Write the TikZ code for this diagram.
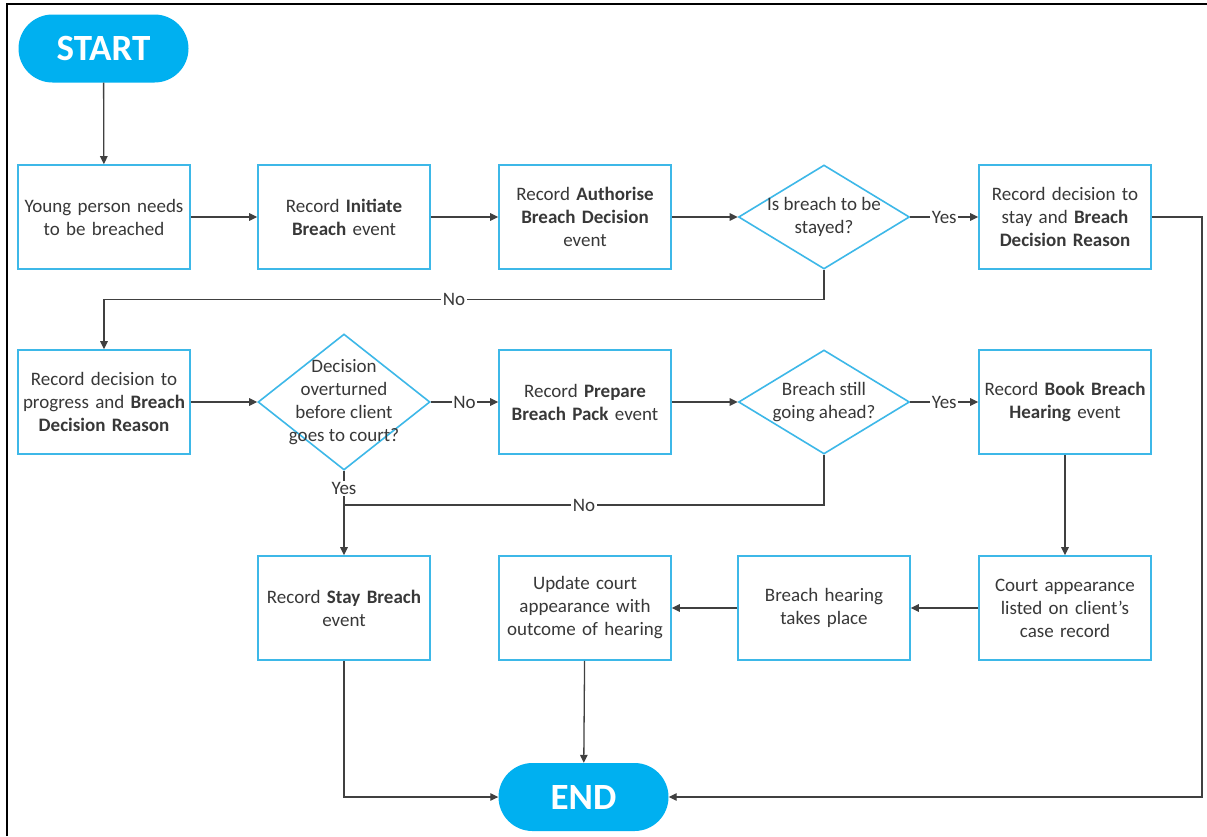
\documentclass[tikz,border=0pt]{standalone}
\usepackage{fontspec}
\setmainfont{Carlito}
\usetikzlibrary{shapes.geometric,arrows.meta}
\definecolor{cyanfill}{HTML}{00B0F0}
\definecolor{boxline}{HTML}{3DB8E8}
\definecolor{conn}{HTML}{404040}
\definecolor{txtc}{HTML}{383838}
\begin{document}
\begin{tikzpicture}[x=1pt,y=-1pt,
  box/.style={draw=boxline, line width=1.6pt, minimum width=172pt, minimum height=104pt,
    text width=164pt, align=center, font=\fontsize{19}{23}\selectfont, text=txtc, inner sep=0pt},
  dia/.style={draw=boxline, line width=1.6pt, diamond, minimum width=171pt, minimum height=104pt, inner sep=0pt},
  dtxt/.style={align=center, font=\fontsize{19}{23}\selectfont, text=txtc, inner sep=0pt},
  pill/.style={fill=cyanfill, rounded corners=34pt, minimum width=170pt, minimum height=68pt,
    text=white, font=\fontsize{37}{40}\selectfont\bfseries, inner sep=0pt},
  arr/.style={draw=conn, line width=1.3pt, -{Triangle[length=8pt,width=7.5pt]}},
  con/.style={draw=conn, line width=1.3pt},
  lbl/.style={fill=white, inner sep=1.5pt, font=\fontsize{19}{23}\selectfont, text=txtc}]
\useasboundingbox (0,0) rectangle (1207,836);
\fill[white] (0,0) rectangle (1207,836);
\draw[line width=1.3pt, black] (7,836) -- (7,4) -- (1207,4);

% nodes
\node[pill] (start) at (103.5,48.5) {START};
\node[box] (b1) at (104,217) {Young person needs\\to be breached};
\node[box] (b2) at (344,217) {Record \textbf{Initiate}\\\textbf{Breach} event};
\node[box] (b3) at (585,217) {Record \textbf{Authorise}\\\textbf{Breach Decision}\\event};
\node[dia, label={[dtxt]center:{Is breach to be\\stayed?}}] (d1) at (824,217) {};
\node[box] (b5) at (1065,217) {Record decision to\\stay and \textbf{Breach}\\\textbf{Decision Reason}};

\node[box] (b6) at (104,402) {Record decision to\\progress and \textbf{Breach}\\\textbf{Decision Reason}};
\node[dia, minimum width=172pt, minimum height=136pt, label={[dtxt]center:{Decision\\overturned\\before client\\goes to court?}}] (d2) at (344,402) {};
\node[box] (b8) at (585,402) {Record \textbf{Prepare}\\\textbf{Breach Pack} event};
\node[dia, label={[dtxt]center:{Breach still\\going ahead?}}] (d3) at (824,402) {};
\node[box] (b9) at (1065,402) {Record \textbf{Book Breach}\\\textbf{Hearing} event};

\node[box] (b10) at (344,608) {Record \textbf{Stay Breach}\\event};
\node[box] (b11) at (585,608) {Update court\\appearance with\\outcome of hearing};
\node[box] (b12) at (824,608) {Breach hearing\\takes place};
\node[box] (b13) at (1065,608) {Court appearance\\listed on client’s\\case record};

\node[pill] (end) at (583.5,797) {END};

% connectors
\draw[arr] (start) -- (b1);
\draw[arr] (b1) -- (b2);
\draw[arr] (b2) -- (b3);
\draw[arr] (b3) -- (d1);
\draw[arr] (d1) -- node[lbl]{Yes} (b5);
\draw[arr] (b5.east) -- (1202,217) |- (end.east);
\draw[arr] (d1.south) -- ++(0,30) -| node[lbl, pos=0.257]{No} (b6.north);
\draw[arr] (b6) -- (d2);
\draw[arr] (d2) -- node[lbl]{No} (b8);
\draw[arr] (b8) -- (d3);
\draw[arr] (d3) -- node[lbl]{Yes} (b9);
\draw[arr] (d2.south) -- node[lbl, pos=0.21]{Yes} (b10.north);
\coordinate (j) at (344,505);
\draw[con] (d3.south) |- node[lbl, pos=0.75]{No} (j);
\draw[arr] (b9) -- (b13);
\draw[arr] (b13) -- (b12);
\draw[arr] (b12) -- (b11);
\draw[arr] (b11) -- (end);
\draw[arr] (b10.south) |- (end.west);
\end{tikzpicture}
\end{document}
